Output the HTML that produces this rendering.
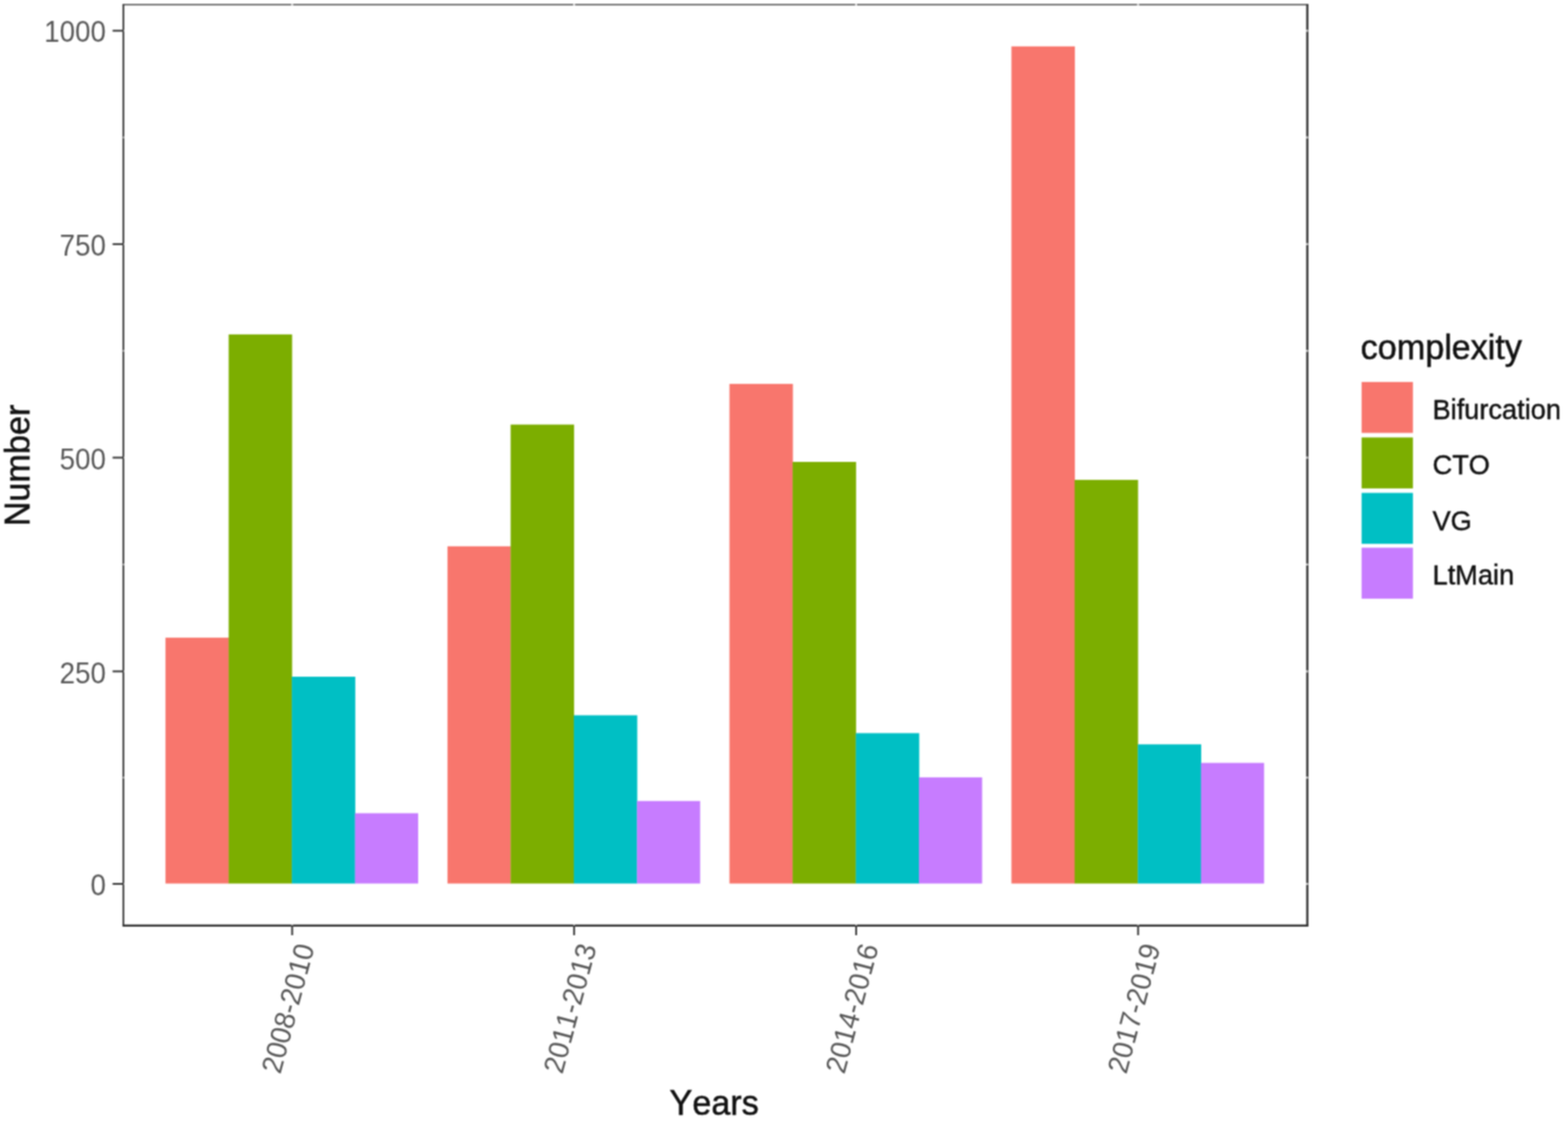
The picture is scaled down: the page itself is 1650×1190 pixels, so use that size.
<!DOCTYPE html>
<html lang="en"><head><meta charset="utf-8"><title>complexity by years</title>
<style>
html,body{margin:0;padding:0;background:#fff;}
body{width:1650px;height:1190px;overflow:hidden;}
svg{display:block;}
text{font-family:"Liberation Sans",Arial,Helvetica,sans-serif;font-kerning:none;}
.tk{fill:#585858;font-size:29.2px;}
.tx{fill:#585858;font-size:29.2px;}
.ti{fill:#111;stroke:#111;stroke-width:0.55px;font-size:36px;}
.lg{fill:#111;stroke:#111;stroke-width:0.45px;font-size:28.6px;}
</style></head><body>
<svg width="1650" height="1190" viewBox="0 0 1650 1190">
<defs><filter id="soft" x="0" y="0" width="1650" height="1190" filterUnits="userSpaceOnUse" color-interpolation-filters="sRGB"><feConvolveMatrix order="3" kernelMatrix="1 2 1 2 4 2 1 2 1" edgeMode="duplicate" preserveAlpha="true"/></filter></defs>
<rect x="0" y="0" width="1650" height="1190" fill="#ffffff"/>
<g filter="url(#soft)">
<rect x="-20" y="-20" width="1690" height="1230" fill="#ffffff"/>
<rect x="174.15" y="670.90" width="66.77" height="258.70" fill="#F8766D"/>
<rect x="240.62" y="351.85" width="66.77" height="577.75" fill="#7CAE00"/>
<rect x="307.09" y="712.00" width="66.77" height="217.60" fill="#00BFC4"/>
<rect x="373.56" y="855.65" width="66.47" height="73.95" fill="#C77CFF"/>
<rect x="470.88" y="574.80" width="66.77" height="354.80" fill="#F8766D"/>
<rect x="537.35" y="446.70" width="66.77" height="482.90" fill="#7CAE00"/>
<rect x="603.82" y="752.60" width="66.77" height="177.00" fill="#00BFC4"/>
<rect x="670.29" y="842.80" width="66.47" height="86.80" fill="#C77CFF"/>
<rect x="767.61" y="403.90" width="66.77" height="525.70" fill="#F8766D"/>
<rect x="834.08" y="486.00" width="66.77" height="443.60" fill="#7CAE00"/>
<rect x="900.55" y="771.40" width="66.77" height="158.20" fill="#00BFC4"/>
<rect x="967.02" y="817.90" width="66.47" height="111.70" fill="#C77CFF"/>
<rect x="1064.34" y="48.80" width="66.77" height="880.80" fill="#F8766D"/>
<rect x="1130.81" y="504.90" width="66.77" height="424.70" fill="#7CAE00"/>
<rect x="1197.28" y="783.20" width="66.77" height="146.40" fill="#00BFC4"/>
<rect x="1263.75" y="802.70" width="66.47" height="126.90" fill="#C77CFF"/>
<line x1="128.90" y1="4.80" x2="1376.85" y2="4.80" stroke="#333333" stroke-width="1.25"/>
<line x1="128.90" y1="973.80" x2="1376.85" y2="973.80" stroke="#333333" stroke-width="2.3"/>
<line x1="129.80" y1="4.80" x2="129.80" y2="973.80" stroke="#333333" stroke-width="1.8"/>
<line x1="1375.70" y1="4.80" x2="1375.70" y2="973.80" stroke="#333333" stroke-width="2.3"/>
<rect x="306.35" y="3.90" width="2.2" height="3" fill="#fff" fill-opacity="0.75"/>
<rect x="306.55" y="971.90" width="1.8" height="2.4" fill="#fff" fill-opacity="0.6"/>
<rect x="603.07" y="3.90" width="2.2" height="3" fill="#fff" fill-opacity="0.75"/>
<rect x="603.27" y="971.90" width="1.8" height="2.4" fill="#fff" fill-opacity="0.6"/>
<rect x="899.79" y="3.90" width="2.2" height="3" fill="#fff" fill-opacity="0.75"/>
<rect x="899.99" y="971.90" width="1.8" height="2.4" fill="#fff" fill-opacity="0.6"/>
<rect x="1196.51" y="3.90" width="2.2" height="3" fill="#fff" fill-opacity="0.75"/>
<rect x="1196.71" y="971.90" width="1.8" height="2.4" fill="#fff" fill-opacity="0.6"/>
<rect x="1373.60" y="928.90" width="3" height="2.2" fill="#fff" fill-opacity="0.7"/>
<rect x="1373.60" y="705.30" width="3" height="2.2" fill="#fff" fill-opacity="0.7"/>
<rect x="1373.60" y="480.40" width="3" height="2.2" fill="#fff" fill-opacity="0.7"/>
<rect x="1373.60" y="255.75" width="3" height="2.2" fill="#fff" fill-opacity="0.7"/>
<rect x="1373.60" y="31.25" width="3" height="2.2" fill="#fff" fill-opacity="0.7"/>
<rect x="1373.60" y="817.10" width="3" height="2.2" fill="#fff" fill-opacity="0.7"/>
<rect x="1373.60" y="592.85" width="3" height="2.2" fill="#fff" fill-opacity="0.7"/>
<rect x="1373.60" y="368.07" width="3" height="2.2" fill="#fff" fill-opacity="0.7"/>
<rect x="1373.60" y="143.50" width="3" height="2.2" fill="#fff" fill-opacity="0.7"/>
<rect x="129.60" y="929.20" width="2" height="1.6" fill="#fff" fill-opacity="0.5"/>
<rect x="129.60" y="705.60" width="2" height="1.6" fill="#fff" fill-opacity="0.5"/>
<rect x="129.60" y="480.70" width="2" height="1.6" fill="#fff" fill-opacity="0.5"/>
<rect x="129.60" y="256.05" width="2" height="1.6" fill="#fff" fill-opacity="0.5"/>
<rect x="129.60" y="31.55" width="2" height="1.6" fill="#fff" fill-opacity="0.5"/>
<rect x="129.20" y="817.30" width="2.4" height="1.8" fill="#fff" fill-opacity="0.55"/>
<rect x="129.20" y="593.05" width="2.4" height="1.8" fill="#fff" fill-opacity="0.55"/>
<rect x="129.20" y="368.28" width="2.4" height="1.8" fill="#fff" fill-opacity="0.55"/>
<rect x="129.20" y="143.70" width="2.4" height="1.8" fill="#fff" fill-opacity="0.55"/>
<line x1="118.50" y1="930.00" x2="129.80" y2="930.00" stroke="#333333" stroke-width="1.9"/>
<text class="tk" transform="translate(111.50,942.10) scale(1,1.06)" text-anchor="end">0</text>
<line x1="118.50" y1="706.40" x2="129.80" y2="706.40" stroke="#333333" stroke-width="1.9"/>
<text class="tk" transform="translate(111.50,718.50) scale(1,1.06)" text-anchor="end">250</text>
<line x1="118.50" y1="481.50" x2="129.80" y2="481.50" stroke="#333333" stroke-width="1.9"/>
<text class="tk" transform="translate(111.50,493.60) scale(1,1.06)" text-anchor="end">500</text>
<line x1="118.50" y1="256.85" x2="129.80" y2="256.85" stroke="#333333" stroke-width="1.9"/>
<text class="tk" transform="translate(111.50,268.95) scale(1,1.06)" text-anchor="end">750</text>
<line x1="118.50" y1="32.35" x2="129.80" y2="32.35" stroke="#333333" stroke-width="1.9"/>
<text class="tk" transform="translate(111.50,44.45) scale(1,1.06)" text-anchor="end">1000</text>
<line x1="307.45" y1="973.80" x2="307.45" y2="984.00" stroke="#333333" stroke-width="1.9"/>
<text class="tx" transform="translate(331.15,996.20) rotate(-75) scale(1,1.04)" text-anchor="end">2008-2010</text>
<line x1="604.17" y1="973.80" x2="604.17" y2="984.00" stroke="#333333" stroke-width="1.9"/>
<text class="tx" transform="translate(627.87,996.20) rotate(-75) scale(1,1.04)" text-anchor="end">2011-2013</text>
<line x1="900.89" y1="973.80" x2="900.89" y2="984.00" stroke="#333333" stroke-width="1.9"/>
<text class="tx" transform="translate(924.59,996.20) rotate(-75) scale(1,1.04)" text-anchor="end">2014-2016</text>
<line x1="1197.61" y1="973.80" x2="1197.61" y2="984.00" stroke="#333333" stroke-width="1.9"/>
<text class="tx" transform="translate(1221.31,996.20) rotate(-75) scale(1,1.04)" text-anchor="end">2017-2019</text>
<text class="ti" x="751.6" y="1173.3" text-anchor="middle">Years</text>
<text class="ti" transform="translate(31.3,489.8) rotate(-90)" text-anchor="middle">Number</text>
<text class="ti" x="1431.8" y="378.4" textLength="169.6" lengthAdjust="spacing">complexity</text>
<rect x="1432.8" y="401.90" width="54" height="53.6" fill="#F8766D"/>
<text class="lg" x="1507.5" y="440.80">Bifurcation</text>
<rect x="1432.8" y="460.30" width="54" height="53.6" fill="#7CAE00"/>
<text class="lg" x="1507.5" y="499.20">CTO</text>
<rect x="1432.8" y="518.60" width="54" height="53.6" fill="#00BFC4"/>
<text class="lg" x="1507.5" y="557.50">VG</text>
<rect x="1432.8" y="576.30" width="54" height="53.6" fill="#C77CFF"/>
<text class="lg" x="1507.5" y="615.20">LtMain</text>
</g>
</svg>
</body></html>
